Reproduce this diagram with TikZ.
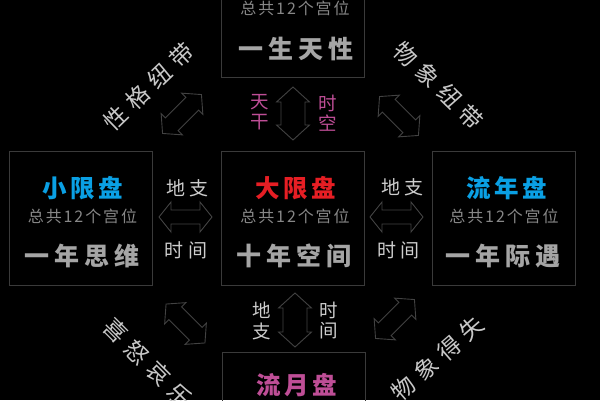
\documentclass[tikz,border=0pt]{standalone}
\usepackage{fontspec}
\setmainfont{Noto Sans CJK SC}
\newfontfamily\cjk{Noto Sans CJK SC}
\definecolor{boxc}{RGB}{58,58,58}
\definecolor{arrowc}{RGB}{66,66,66}
\definecolor{cblue}{RGB}{10,160,228}
\definecolor{cred}{RGB}{230,30,36}
\definecolor{cmag}{RGB}{190,78,150}
\definecolor{ctitle}{RGB}{165,165,165}
\definecolor{csub}{RGB}{135,135,135}
\definecolor{clabel}{RGB}{205,205,205}
\definecolor{crot}{RGB}{200,200,200}
\tikzset{
  box/.style={draw=boxc, line width=1pt, minimum width=143pt, minimum height=134pt, inner sep=0pt},
  title/.style={inner sep=0pt, font=\cjk\bfseries\fontsize{24.5}{24.5}\selectfont\addfontfeature{LetterSpace=15}},
  subline/.style={inner sep=0pt, text=csub, font=\cjk\fontsize{16}{16}\selectfont\addfontfeature{LetterSpace=12}},
  mainline/.style={inner sep=0pt, text=ctitle, font=\cjk\bfseries\fontsize{25}{25}\selectfont\addfontfeature{LetterSpace=20}},
  hlabel/.style={inner sep=0pt, text=clabel, font=\cjk\fontsize{19}{19}\selectfont\addfontfeature{LetterSpace=25}},
  vlabel/.style={inner sep=0pt, align=center, font=\cjk\fontsize{18.5}{20.5}\selectfont},
  rotlabel/.style={inner sep=0pt, text=crot, font=\cjk\fontsize{23}{23}\selectfont\addfontfeature{LetterSpace=32}},
  arrowline/.style={draw=arrowc, line width=0.9pt, line join=miter}
}
% block double arrow: cx, cy, angle, half length, head half width, shaft half width, head length
\newcommand\blockarrow[7]{%
  \begin{scope}[shift={(#1,#2)}, rotate=#3]
    \draw[arrowline] (-#4,0) -- (-#4+#7,#5) -- (-#4+#7,#6) -- (#4-#7,#6) -- (#4-#7,#5) -- (#4,0)
      -- (#4-#7,-#5) -- (#4-#7,-#6) -- (-#4+#7,-#6) -- (-#4+#7,-#5) -- cycle;
  \end{scope}}
\begin{document}
\begin{tikzpicture}[x=1pt,y=-1pt]
\fill[black] (0,0) rectangle (600,400);
\useasboundingbox (0,0) rectangle (600,400);
\clip (0,0) rectangle (600,400);

% boxes
\node[box] (topbox) at (293,10) {};
\node[box] (leftbox) at (81,218) {};
\node[box] (midbox) at (293,218) {};
\node[box] (rightbox) at (503.5,218) {};
\node[box] (botbox) at (294,419) {};

% top box texts
\node[subline] (topsub) at (295,8) {总共12个宫位};
\node[mainline] (topmain) at (295.5,48.5) {一生天性};

% left box
\node[title, text=cblue] (lefttitle) at (82.5,188) {小限盘};
\node[subline] (leftsub) at (82.5,216) {总共12个宫位};
\node[mainline] (leftmain) at (81.5,256) {一年思维};

% middle box
\node[title, text=cred] (midtitle) at (295.5,188) {大限盘};
\node[subline] (midsub) at (295,216) {总共12个宫位};
\node[mainline] (midmain) at (293.5,256) {十年空间};

% right box
\node[title, text=cblue] (righttitle) at (506.5,188) {流年盘};
\node[subline] (rightsub) at (504,216) {总共12个宫位};
\node[mainline] (rightmain) at (502.5,256) {一年际遇};

% bottom box
\node[title, text=cmag] (bottitle) at (296.5,385) {流月盘};

% horizontal links
\node[hlabel] (lup) at (187.5,188) {地支};
\node[hlabel] (ldown) at (186,250) {时间};
\blockarrow{185.5}{217}{0}{26.5}{15}{7}{12}
\node[hlabel] (rup) at (402.5,187) {地支};
\node[hlabel] (rdown) at (398.5,250) {时间};
\blockarrow{396.5}{217}{0}{26.5}{15}{7}{12}

% vertical links
\blockarrow{293}{113.5}{90}{26.5}{16.5}{12}{15}
\node[vlabel, text=cmag] (tgan) at (260,112) {天\\干};
\node[vlabel, text=cmag] (tshi) at (328,113) {时\\空};
\blockarrow{295}{320}{90}{27}{16.5}{12}{15}
\node[vlabel, text=clabel] (bdi) at (262,321) {地\\支};
\node[vlabel, text=clabel] (bshi) at (329,320.5) {时\\间};

% diagonal links
\blockarrow{182}{114}{45}{27.5}{15}{9}{13}
\blockarrow{399}{116}{-45}{27.5}{15}{9}{13}
\blockarrow{185.5}{323.5}{-45}{27.5}{15}{9}{13}
\blockarrow{395}{319}{45}{27.5}{15}{9}{13}

% rotated texts
\node[rotlabel, rotate=44] (rul) at (148.5,87) {性格纽带};
\node[rotlabel, rotate=-44] (rur) at (438.5,86) {物象纽带};
\node[rotlabel, rotate=-45] (rll) at (148,363) {喜怒哀乐};
\node[rotlabel, rotate=41] (rlr) at (437.5,358) {物象得失};
\end{tikzpicture}
\end{document}
